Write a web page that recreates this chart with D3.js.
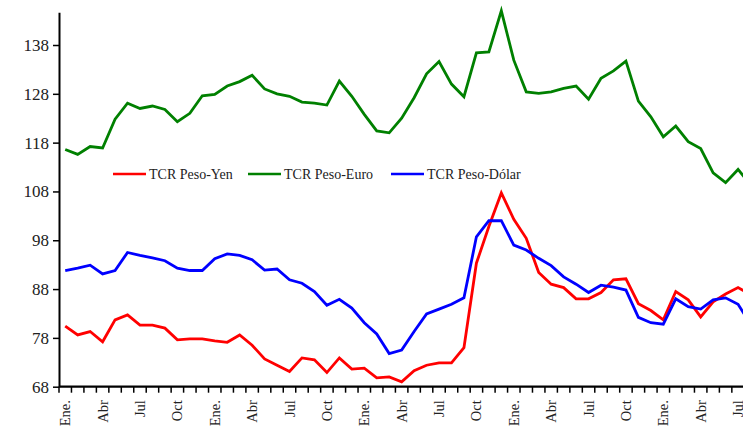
<!DOCTYPE html>
<html>
<head>
<meta charset="utf-8">
<script src="https://cdnjs.cloudflare.com/ajax/libs/d3/7.8.5/d3.min.js"></script>
<style>
body{margin:0;background:#fff;}
svg{display:block;}
</style>
</head>
<body>
<script>
// data (monthly, Ene. year 1 .. Ago year 5; the last month is cut by the frame)
var months = ["Ene.","Feb","Mar","Abr","May","Jun","Jul","Ago","Sep","Oct","Nov","Dic"];
var yTicks = [68,78,88,98,108,118,128,138];
var seriesNames = ["TCR Peso-Yen","TCR Peso-Euro","TCR Peso-Dólar"];
var seriesColors = ["#ff0000","#008000","#0000ff"];

var yen = [80.4,78.6,79.3,77.2,81.7,82.7,80.6,80.6,80.0,77.6,77.8,77.8,
           77.4,77.1,78.6,76.5,73.7,72.4,71.1,73.9,73.5,70.9,73.9,71.6,
           71.8,69.8,70.0,69.0,71.3,72.4,72.9,72.9,76.0,93.3,100.8,107.7,
           102.3,98.4,91.4,89.0,88.3,86.0,86.0,87.3,89.9,90.1,85.0,83.6,
           81.7,87.5,85.8,82.3,85.4,87.0,88.3,86.9];
var euro = [116.6,115.6,117.2,116.9,122.8,126.1,125.0,125.5,124.8,122.3,124.0,127.6,
            127.9,129.6,130.5,131.8,129.0,128.0,127.5,126.3,126.1,125.7,130.6,127.5,
            123.8,120.4,120.0,123.0,127.2,132.1,134.6,130.0,127.4,136.4,136.6,145.0,
            134.9,128.4,128.1,128.4,129.1,129.6,126.9,131.2,132.7,134.7,126.5,123.3,
            119.2,121.4,118.2,116.8,111.8,109.8,112.5,109.4];
var dolar = [91.8,92.3,92.9,91.1,91.8,95.5,94.9,94.4,93.8,92.3,91.8,91.8,
             94.2,95.2,94.9,94.0,91.9,92.1,89.9,89.2,87.5,84.7,85.9,84.1,
             81.1,78.8,74.8,75.5,79.3,82.9,83.9,84.9,86.2,98.7,102.0,102.0,
             97.0,96.0,94.3,92.8,90.5,89.0,87.3,88.8,88.4,87.8,82.2,81.1,
             80.8,86.0,84.4,83.9,85.8,86.2,84.9,80.8];
var series = [yen, euro, dolar];

var W = 743, H = 431;
var left = 59, plotTop = 12.3, axisY = 386.7, step = 12.46;
var n = yen.length;
var cats = d3.range(n);
var serif = "'Liberation Serif','DejaVu Serif',serif";

var svg = d3.select("body").append("svg")
    .attr("width", W)
    .attr("height", H);

var x = d3.scaleBand()
    .domain(cats)
    .range([left, left + n*step])
    .paddingInner(0).paddingOuter(0);
var y = d3.scaleLinear()
    .domain([68, 144.7])
    .range([axisY, plotTop]);

var cx = function(i){ return x(i) + x.bandwidth()/2; };

// lines
var line = d3.line()
    .x(function(d,i){ return cx(i); })
    .y(function(d){ return y(d); });

svg.selectAll("path.serie")
    .data(series)
    .enter().append("path")
    .attr("class","serie")
    .attr("d", line)
    .attr("fill","none")
    .attr("stroke", function(d,i){ return seriesColors[i]; })
    .attr("stroke-width", 2.8)
    .attr("stroke-linejoin","miter");

// y axis
var yAxis = svg.append("g")
    .attr("transform","translate(" + left + ",0)")
    .call(d3.axisLeft(y).tickValues(yTicks).tickSize(6).tickSizeOuter(0).tickPadding(4));
yAxis.select(".domain").attr("stroke","#000").attr("stroke-width",2);
yAxis.selectAll(".tick line").attr("stroke","#000").attr("stroke-width",1.5);
yAxis.selectAll(".tick text")
    .attr("fill","#222")
    .style("font-family", serif)
    .style("font-size","17px");

// x axis: ticks on the band edges, labels every third month
var edges = d3.range(n+1);
var xAxisG = svg.append("g");
xAxisG.append("line")
    .attr("x1", left).attr("x2", left + n*step)
    .attr("y1", axisY).attr("y2", axisY)
    .attr("stroke","#000").attr("stroke-width",2.2);
xAxisG.selectAll("line.tk")
    .data(edges)
    .enter().append("line")
    .attr("class","tk")
    .attr("x1", function(k){ return k < n ? x(k) : x(n-1) + step; })
    .attr("x2", function(k){ return k < n ? x(k) : x(n-1) + step; })
    .attr("y1", axisY).attr("y2", axisY + 6)
    .attr("stroke","#000").attr("stroke-width",1.5);
xAxisG.selectAll("text")
    .data(cats.filter(function(i){ return i % 3 === 0; }))
    .enter().append("text")
    .attr("transform", function(i){ return "translate(" + cx(i) + "," + (axisY + 13.5) + ") rotate(-90)"; })
    .attr("text-anchor","end")
    .attr("dy","0.35em")
    .attr("fill","#222")
    .style("font-family", serif)
    .style("font-size","14.5px")
    .text(function(i){ return months[i % 12]; });

// legend
var legX = [113, 248, 391];
var leg = svg.selectAll("g.leg")
    .data(seriesNames)
    .enter().append("g")
    .attr("class","leg")
    .attr("transform", function(d,i){ return "translate(" + legX[i] + ",174)"; });
leg.append("line")
    .attr("x1",0).attr("x2",33)
    .attr("y1",0).attr("y2",0)
    .attr("stroke", function(d,i){ return seriesColors[i]; })
    .attr("stroke-width",2.5);
leg.append("text")
    .attr("x",36).attr("y",5)
    .attr("fill","#222")
    .style("font-family", serif)
    .style("font-size","14px")
    .text(function(d){ return d; });
</script>
</body>
</html>
